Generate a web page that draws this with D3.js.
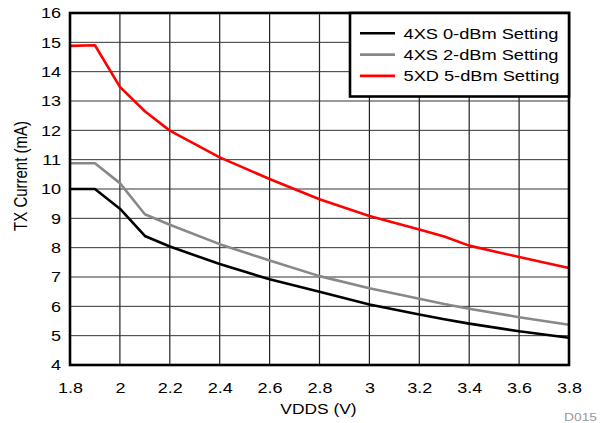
<!DOCTYPE html>
<html>
<head>
<meta charset="utf-8">
<script src="https://cdn.jsdelivr.net/npm/d3@7"></script>
<style>
  body { margin: 0; background: #fff; }
  text { font-family: "Liberation Sans", Arial, sans-serif; }
</style>
</head>
<body>
<div class="chart"></div>
<script>
// data
let vdds = [1.8, 1.9, 2.0, 2.1, 2.2, 2.4, 2.6, 2.8, 3.0, 3.2, 3.3, 3.4, 3.6, 3.8];
let xs0dBm = [10.0, 10.0, 9.33, 8.4, 8.04, 7.44, 6.92, 6.5, 6.06, 5.72, 5.56, 5.41, 5.15, 4.93];
let xs2dBm = [10.88, 10.88, 10.2, 9.14, 8.78, 8.12, 7.56, 7.03, 6.62, 6.26, 6.08, 5.92, 5.63, 5.37];
let xd5dBm = [14.88, 14.9, 13.48, 12.65, 11.99, 11.08, 10.34, 9.65, 9.08, 8.62, 8.38, 8.07, 7.68, 7.31];
let seriesNames = ["4XS 0-dBm Setting", "4XS 2-dBm Setting", "5XD 5-dBm Setting"];
let seriesColors = ["#000000", "#888888", "#ff0000"];
let xTicks = [1.8, 2, 2.2, 2.4, 2.6, 2.8, 3, 3.2, 3.4, 3.6, 3.8];
let yTicks = [4, 5, 6, 7, 8, 9, 10, 11, 12, 13, 14, 15, 16];

let width = 600, height = 423;
let margin = { left: 70, right: 31, top: 13, bottom: 58 };
let stretch = 1.2; // the reference text is drawn wide

let x = d3.scaleLinear().domain([1.8, 3.8]).range([margin.left, width - margin.right]);
let y = d3.scaleLinear().domain([4, 16]).range([height - margin.bottom, margin.top]);

let svg = d3.select(".chart").append("svg").attr("width", width).attr("height", height);

// grid
svg.append("g").selectAll("line").data(xTicks.slice(1, -1)).join("line")
	.attr("x1", d => x(d)).attr("x2", d => x(d))
	.attr("y1", y(4)).attr("y2", y(16))
	.attr("stroke", "#222").attr("stroke-width", 1.2);
svg.append("g").selectAll("line").data(yTicks.slice(1, -1)).join("line")
	.attr("x1", x(1.8)).attr("x2", x(3.8))
	.attr("y1", d => y(d)).attr("y2", d => y(d))
	.attr("stroke", "#333").attr("stroke-width", 1);

// axes (labels only)
let yAxis = d3.axisLeft(y).tickValues(yTicks).tickSize(0).tickPadding(7.5).tickFormat(d3.format("d"));
let xAxis = d3.axisBottom(x).tickValues(xTicks).tickSize(0).tickPadding(17).tickFormat(d => d);

svg.append("g").attr("transform", `translate(${margin.left},0)`).call(yAxis)
	.call(g => g.select(".domain").remove())
	.selectAll("text").attr("font-size", 15).attr("fill", "#000")
	.attr("transform", `scale(${stretch},1)`);
svg.append("g").attr("transform", `translate(0,${height - margin.bottom})`).call(xAxis)
	.call(g => g.select(".domain").remove())
	.selectAll("text").attr("font-size", 15).attr("fill", "#000")
	.attr("transform", `scale(${stretch},1)`);

// lines
let allSeries = [xs0dBm, xs2dBm, xd5dBm];
let line = d3.line()
	.x((d, i) => x(vdds[i]))
	.y(d => y(d));

svg.append("g").selectAll("path").data(allSeries).join("path")
	.attr("fill", "none")
	.attr("stroke", (d, i) => seriesColors[i])
	.attr("stroke-width", 2.6)
	.attr("stroke-linejoin", "round")
	.attr("d", d => line(d));

// plot frame
svg.append("rect")
	.attr("x", x(1.8)).attr("y", y(16))
	.attr("width", x(3.8) - x(1.8)).attr("height", y(4) - y(16))
	.attr("fill", "none").attr("stroke", "#000").attr("stroke-width", 2.6);

// legend
let legend = svg.append("g");
legend.append("rect")
	.attr("x", 350).attr("y", y(16))
	.attr("width", x(3.8) - 350).attr("height", 83.5)
	.attr("fill", "#fff").attr("stroke", "#000").attr("stroke-width", 2.6);
seriesNames.forEach(function(name, i) {
	let ly = 33.3 + i * 21.3;
	legend.append("line")
		.attr("x1", 360).attr("x2", 395).attr("y1", ly).attr("y2", ly)
		.attr("stroke", seriesColors[i]).attr("stroke-width", 2.6);
	legend.append("text")
		.attr("transform", `translate(403.5,${ly + 5.2}) scale(${stretch},1)`)
		.attr("font-size", 15.2)
		.text(name);
});

// titles
svg.append("text")
	.attr("transform", `translate(${x(2.8) - 1},414) scale(${stretch},1)`)
	.attr("text-anchor", "middle").attr("font-size", 14.5)
	.text("VDDS (V)");
svg.append("text")
	.attr("transform", `translate(27,176) scale(${stretch},1) rotate(-90)`)
	.attr("text-anchor", "middle").attr("font-size", 15)
	.text("TX Current (mA)");
svg.append("text")
	.attr("transform", `translate(597,421) scale(${stretch},1)`)
	.attr("text-anchor", "end").attr("font-size", 11.5).attr("fill", "#999")
	.text("D015");
</script>
</body>
</html>
